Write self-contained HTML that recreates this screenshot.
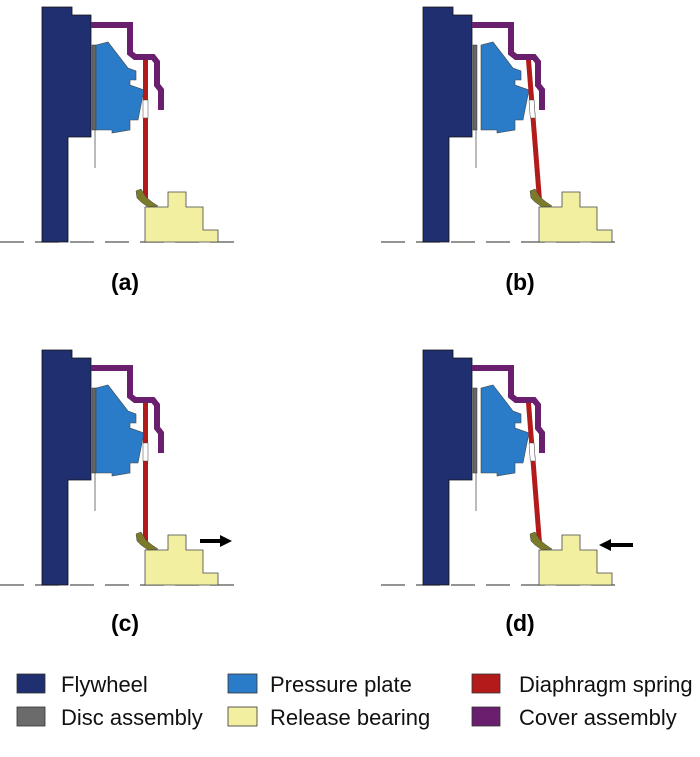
<!DOCTYPE html>
<html><head><style>
body{margin:0;background:#fff;width:700px;height:757px;overflow:hidden}
svg{display:block}
text{font-family:"Liberation Sans",Arial,sans-serif}
</style></head><body>
<svg width="700" height="757" viewBox="0 0 700 757" xmlns="http://www.w3.org/2000/svg">
<defs>
<g id="base">
  <line x1="0" y1="242" x2="245" y2="242" stroke="#555" stroke-width="1.3" stroke-dasharray="24,11"/>
  <path d="M42,7 H72 V15 H91 V137 H68 V242 H42 Z" fill="#1f2f70" stroke="#111" stroke-width="0.8"/>
  <polyline points="91,25 130,25 130,53 135,57 153,57 157,62 157,85 161,90 161,110" fill="none" stroke="#6a1f6e" stroke-width="6" stroke-linejoin="miter"/>
  <line x1="95" y1="130" x2="95" y2="168" stroke="#777" stroke-width="1"/>
  <rect x="92" y="45" width="4" height="85" fill="#666" stroke="#333" stroke-width="0.5"/>
</g>
</defs>

<g transform="translate(0,0)">
  <use href="#base"/>
  <path d="M96,45 L108,42 L128,68 L136,71 L136,80 L130,80 L130,85 L144,90 L138,120 L130,120 L130,130 L112,133 L112,130 L96,130 Z" fill="#2a7cc8" stroke="#444" stroke-width="0.6"/>
  <rect x="143" y="60" width="5" height="40" fill="#b31b1b"/>
  <rect x="143" y="118" width="5" height="82" fill="#b31b1b"/>
  <rect x="143" y="100" width="5" height="18" fill="#fff" stroke="#444" stroke-width="0.5"/>
  <path d="M145,207 H168 V192 H186 V207 H203 V230 H218 V242 H145 Z" fill="#f2f0a0" stroke="#444" stroke-width="0.8"/>
  <path d="M136,191 L141,189 L146,197 L152,202 L158,206 L148,207 L141,202 L137,198 Z" fill="#7a7a2a" stroke="#444" stroke-width="0.5"/>
</g>
<g transform="translate(381,0)">
  <use href="#base"/>
  <path d="M100,45 L112,42 L132,68 L140,71 L140,80 L134,80 L134,85 L148,90 L142,120 L134,120 L134,130 L116,133 L116,130 L100,130 Z" fill="#2a7cc8" stroke="#444" stroke-width="0.6"/>
  <polygon points="145,60 150,60 161,200 156,200" fill="#b31b1b"/>
  <polygon points="148,100 153,100 154.3,118 149.3,118" fill="#fff" stroke="#444" stroke-width="0.5"/>
  <path d="M158,207 H181 V192 H199 V207 H216 V230 H231 V242 H158 Z" fill="#f2f0a0" stroke="#444" stroke-width="0.8"/>
  <path d="M149,191 L154,189 L159,197 L165,202 L171,206 L161,207 L154,202 L150,198 Z" fill="#7a7a2a" stroke="#444" stroke-width="0.5"/>
</g>
<g transform="translate(0,343)">
  <use href="#base"/>
  <path d="M96,45 L108,42 L128,68 L136,71 L136,80 L130,80 L130,85 L144,90 L138,120 L130,120 L130,130 L112,133 L112,130 L96,130 Z" fill="#2a7cc8" stroke="#444" stroke-width="0.6"/>
  <rect x="143" y="60" width="5" height="40" fill="#b31b1b"/>
  <rect x="143" y="118" width="5" height="82" fill="#b31b1b"/>
  <rect x="143" y="100" width="5" height="18" fill="#fff" stroke="#444" stroke-width="0.5"/>
  <path d="M145,207 H168 V192 H186 V207 H203 V230 H218 V242 H145 Z" fill="#f2f0a0" stroke="#444" stroke-width="0.8"/>
  <path d="M136,191 L141,189 L146,197 L152,202 L158,206 L148,207 L141,202 L137,198 Z" fill="#7a7a2a" stroke="#444" stroke-width="0.5"/>
  <line x1="200" y1="198" x2="222" y2="198" stroke="#000" stroke-width="4"/>
  <polygon points="220,192 232,198 220,204" fill="#000"/>
</g>
<g transform="translate(381,343)">
  <use href="#base"/>
  <path d="M100,45 L112,42 L132,68 L140,71 L140,80 L134,80 L134,85 L148,90 L142,120 L134,120 L134,130 L116,133 L116,130 L100,130 Z" fill="#2a7cc8" stroke="#444" stroke-width="0.6"/>
  <polygon points="145,60 150,60 161,200 156,200" fill="#b31b1b"/>
  <polygon points="148,100 153,100 154.3,118 149.3,118" fill="#fff" stroke="#444" stroke-width="0.5"/>
  <path d="M158,207 H181 V192 H199 V207 H216 V230 H231 V242 H158 Z" fill="#f2f0a0" stroke="#444" stroke-width="0.8"/>
  <path d="M149,191 L154,189 L159,197 L165,202 L171,206 L161,207 L154,202 L150,198 Z" fill="#7a7a2a" stroke="#444" stroke-width="0.5"/>
  <line x1="228" y1="202" x2="252" y2="202" stroke="#000" stroke-width="4"/>
  <polygon points="230,196 218,202 230,208" fill="#000"/>
</g>

<g font-size="23" font-weight="bold" text-anchor="middle" fill="#000">
  <text x="125" y="290">(a)</text>
  <text x="520" y="290">(b)</text>
  <text x="125" y="631">(c)</text>
  <text x="520" y="631">(d)</text>
</g>

<g stroke="#333" stroke-width="0.8">
  <rect x="17" y="674" width="28" height="19" fill="#1f2f70"/>
  <rect x="228" y="674" width="29" height="19" fill="#2a7cc8"/>
  <rect x="472" y="674" width="28" height="19" fill="#b31b1b"/>
  <rect x="17" y="707" width="28" height="19" fill="#6b6b6b"/>
  <rect x="228" y="707" width="29" height="19" fill="#f2f0a0"/>
  <rect x="472" y="707" width="28" height="19" fill="#6a1f6e"/>
</g>
<g font-size="22" fill="#111">
  <text x="61" y="692">Flywheel</text>
  <text x="270" y="692">Pressure  plate</text>
  <text x="519" y="692">Diaphragm spring</text>
  <text x="61" y="725">Disc assembly</text>
  <text x="270" y="725">Release bearing</text>
  <text x="519" y="725">Cover assembly</text>
</g>
</svg>
</body></html>
